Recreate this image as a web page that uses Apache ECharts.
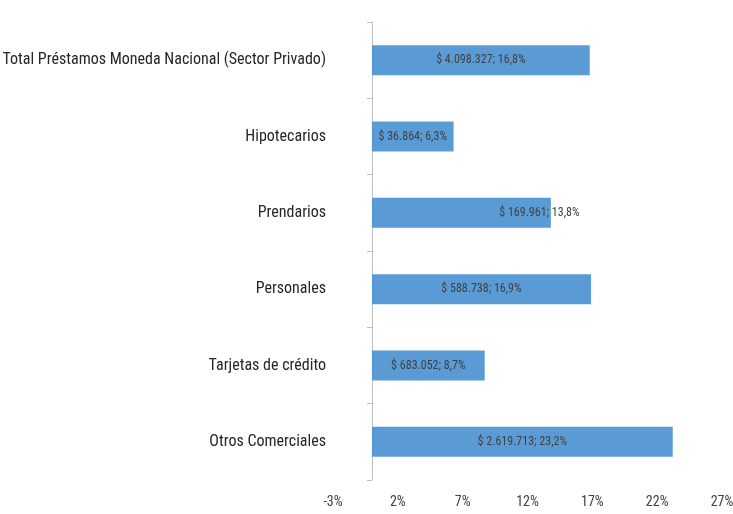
<!DOCTYPE html>
<html>
<head>
<meta charset="utf-8">
<script src="https://cdn.jsdelivr.net/npm/echarts@6/dist/echarts.min.js"></script>
<style>
  html, body { margin: 0; padding: 0; background: #fff; }
  #chart { width: 733px; height: 514px; }
</style>
</head>
<body>
<div id="chart"></div>
<script>
// categorias de arriba hacia abajo
var categorias = [
  'Total Préstamos Moneda Nacional (Sector Privado)',
  'Hipotecarios',
  'Prendarios',
  'Personales',
  'Tarjetas de crédito',
  'Otros Comerciales'
];
var variacion = [16.8, 6.3, 13.8, 16.9, 8.7, 23.2];
var montos = ['4.098.327', '36.864', '169.961', '588.738', '683.052', '2.619.713'];

var fuente = '"Roboto Condensed", "Open Sans", sans-serif';

var datos = variacion.map(function (v, i) {
  var item = { value: v };
  // la etiqueta de Prendarios esta corrida a la derecha en el original
  if (categorias[i] === 'Prendarios') {
    item.label = { offset: [78, 0] };
  }
  return item;
});

var chart = echarts.init(document.getElementById('chart'));
chart.setOption({
  animation: false,
  grid: { left: 333, right: 11, top: 22, bottom: 34, outerBoundsMode: 'none', containLabel: false },
  xAxis: {
    type: 'value',
    min: -3,
    max: 27,
    interval: 5,
    axisLine: { show: false },
    axisTick: { show: false },
    splitLine: { show: false },
    axisLabel: {
      formatter: '{value}%',
      margin: 15,
      color: '#404040',
      fontSize: 14,
      fontFamily: fuente
    }
  },
  yAxis: {
    type: 'category',
    inverse: true,
    data: categorias,
    // el eje vertical va en el 0%, 3 puntos a la derecha del minimo
    offset: -39,
    axisLine: { onZero: false, lineStyle: { color: '#bfbfbf', width: 1 } },
    axisTick: { show: true, length: 5, lineStyle: { color: '#bfbfbf' } },
    axisLabel: {
      margin: 46,
      color: '#262626',
      fontSize: 16,
      fontFamily: fuente
    }
  },
  series: [{
    type: 'bar',
    data: datos,
    barWidth: 30,
    itemStyle: { color: '#5b9bd5' },
    label: {
      show: true,
      position: 'inside',
      color: '#404040',
      fontSize: 12,
      fontFamily: fuente,
      formatter: function (p) {
        return '$ ' + montos[p.dataIndex] + '; ' + String(p.value).replace('.', ',') + '%';
      }
    }
  }]
});
</script>
</body>
</html>
